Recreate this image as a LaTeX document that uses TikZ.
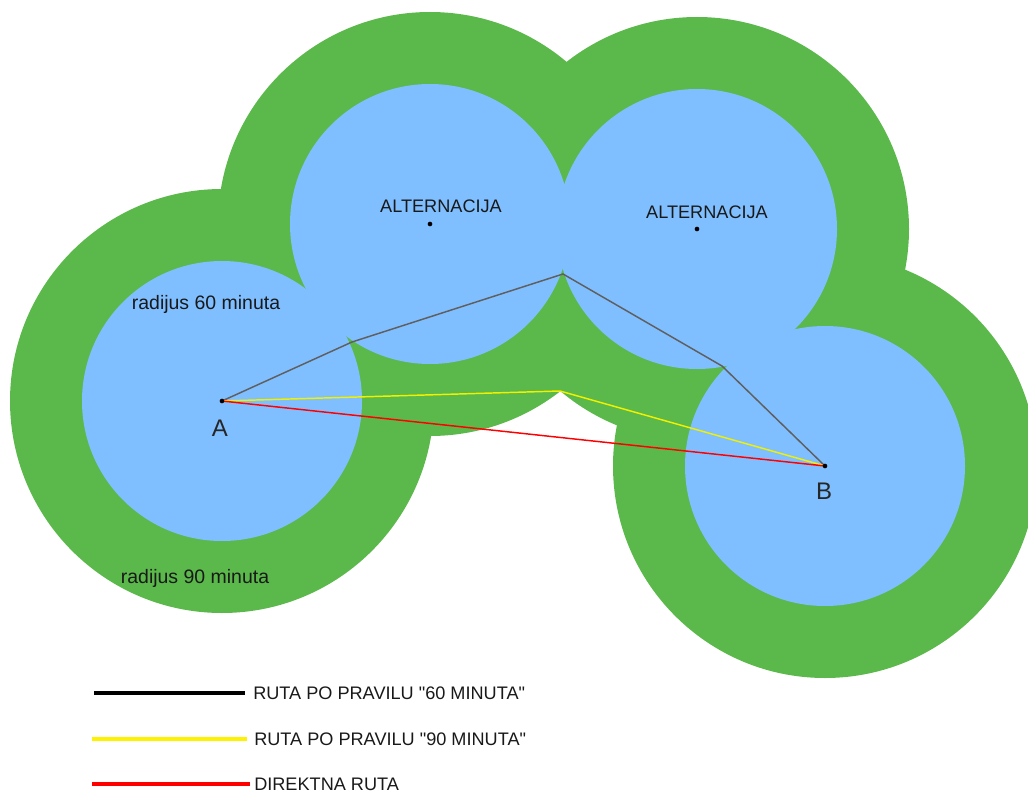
\documentclass[tikz,border=0pt]{standalone}
\usepackage{fontspec}
\setmainfont{Liberation Sans}[Ligatures=TeXOff]
\usepackage{xcolor}
\usepackage{tikz}
\usetikzlibrary{positioning, calc}
\definecolor{zonegreen}{RGB}{90,185,74}
\definecolor{zoneblue}{RGB}{128,191,255}
\definecolor{routegray}{RGB}{95,95,95}
\definecolor{routeyellow}{RGB}{240,240,0}
\tikzstyle{outerzone} = [fill=zonegreen, draw=none]
\tikzstyle{innerzone} = [fill=zoneblue, draw=none]
\tikzstyle{spot} = [circle, fill=black, inner sep=0pt, minimum size=3.5pt]
\tikzstyle{label} = [font=\fontsize{13.6}{16}\selectfont, text=black!90, inner sep=0pt]
\tikzstyle{radiuslabel} = [font=\fontsize{14.6}{17}\selectfont, text=black!90, inner sep=0pt]
\tikzstyle{pointname} = [font=\fontsize{18}{21}\selectfont, text=black!85, inner sep=0pt]
\tikzstyle{legendline} = [line width=3pt]
\tikzstyle{route} = [line width=1.1pt]

\begin{document}
\begin{tikzpicture}[x=0.75pt, y=-0.75pt]
    \useasboundingbox (0,0) rectangle (1028,792);
    % airports and alternates
    \coordinate (a) at (222,401);
    \coordinate (alt1) at (430,224);
    \coordinate (alt2) at (697,229);
    \coordinate (b) at (825,466);

    % 90 minute zones
    \foreach \c in {a, alt1, alt2, b}
        \fill [outerzone] (\c) circle [radius=159pt];
    % 60 minute zones
    \foreach \c in {a, alt1, alt2, b}
        \fill [innerzone] (\c) circle [radius=105pt];

    % route turning points
    \coordinate (p1) at (352,342);
    \coordinate (p2) at (563,274);
    \coordinate (p3) at (722,366);
    \coordinate (q1) at (560,391);

    \draw [route, routegray] (a) -- (p1) -- (p2) -- (p3) -- (b);
    \draw [route, routeyellow] (a) -- (q1) -- (b);
    \draw [route, red] (a) -- (b);

    \node (dota) [spot] at (a) {};
    \node (dotb) [spot] at (b) {};
    \node (dotalt1) [spot] at (alt1) {};
    \node (dotalt2) [spot] at (alt2) {};

    \node (namea) [pointname] at (220,428) {A};
    \node (nameb) [pointname] at (824,491) {B};
    \node (alttext1) [label] at (441,206) {ALTERNACIJA};
    \node (alttext2) [label] at (707,212) {ALTERNACIJA};
    \node (r60) [radiuslabel] at (206,304) {radijus 60 minuta};
    \node (r90) [radiuslabel] at (195,578) {radijus 90 minuta};

    % legend
    \coordinate (l1s) at (94,693);
    \coordinate (l1e) at (245,693);
    \coordinate (l2s) at (92,739);
    \coordinate (l2e) at (247,739);
    \coordinate (l3s) at (92,784);
    \coordinate (l3e) at (250,784);
    \draw [legendline, black] (l1s) -- (l1e);
    \draw [legendline, yellow] (l2s) -- (l2e);
    \draw [legendline, red] (l3s) -- (l3e);
    \node (leg1) [label, anchor=west, right=8 of l1e] {RUTA PO PRAVILU "60 MINUTA"};
    \node (leg2) [label, anchor=west, right=7 of l2e] {RUTA PO PRAVILU "90 MINUTA"};
    \node (leg3) [label, anchor=west, right=4 of l3e] {DIREKTNA RUTA};
  \end{tikzpicture}
\end{document}
